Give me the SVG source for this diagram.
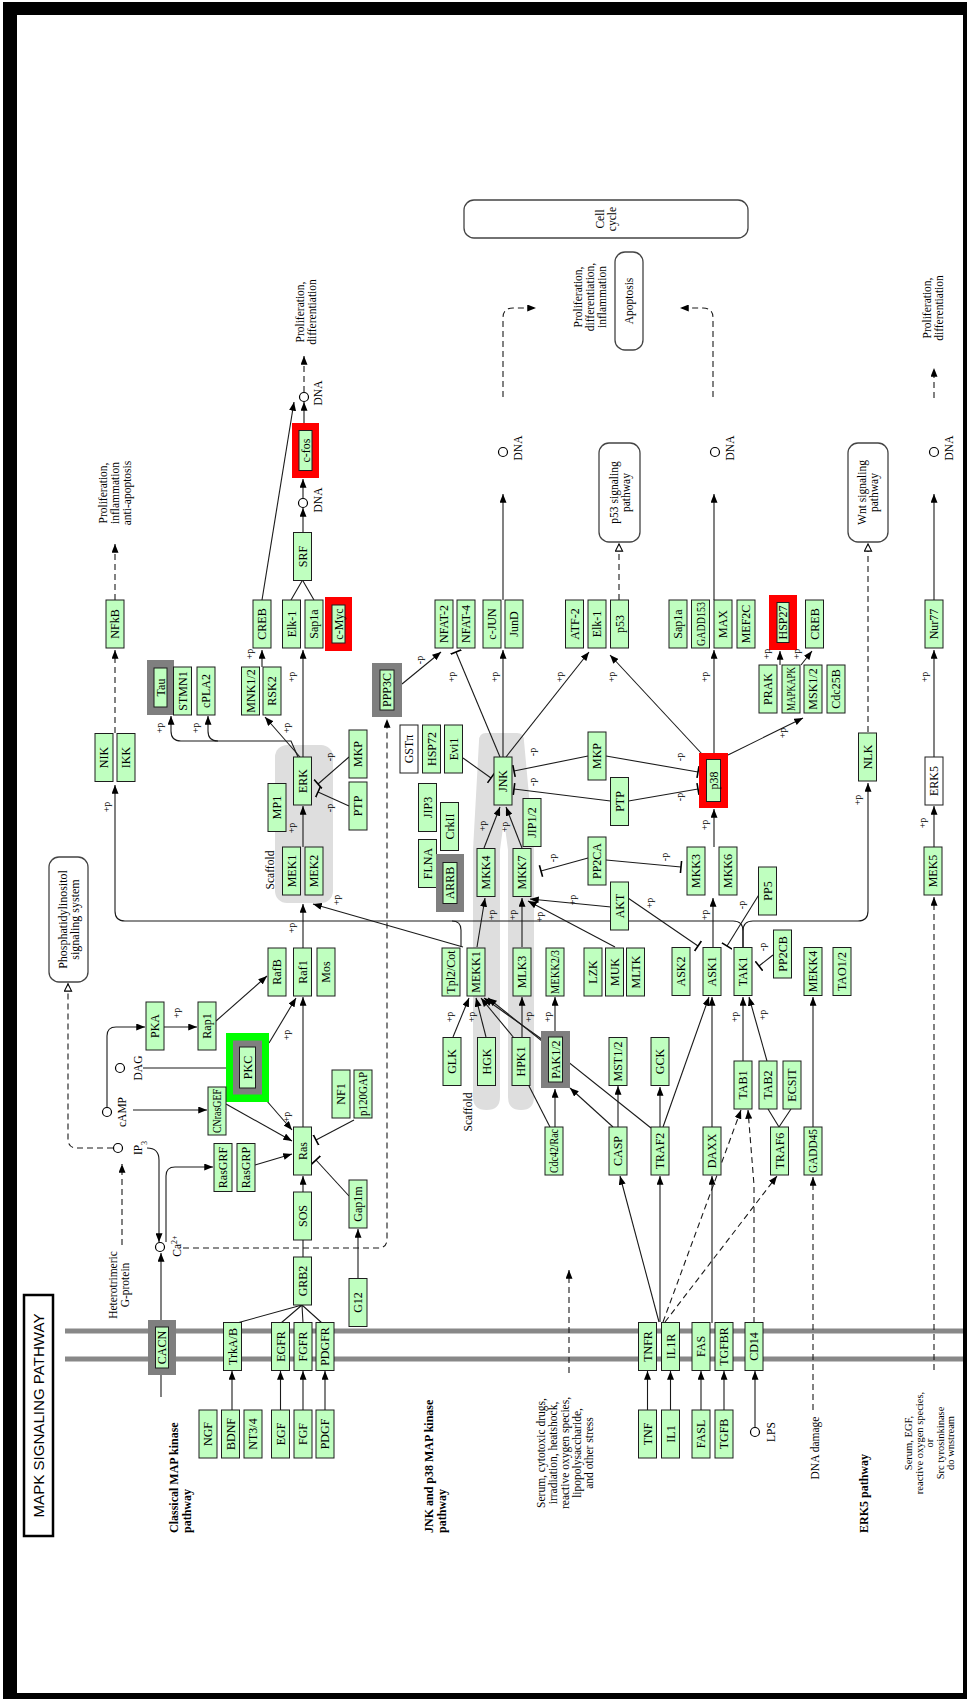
<svg xmlns="http://www.w3.org/2000/svg" width="967" height="1699" viewBox="0 0 967 1699">
<style>
.n rect{fill:#bfffbf;stroke:#1e1e1e;stroke-width:1}
.nw rect{fill:#fff;stroke:#1e1e1e;stroke-width:1}
.in{fill:#bfffbf;stroke:#1e1e1e;stroke-width:1}
.hg{fill:#7f7f7f}
.hr{fill:#ff0000}
.hl{fill:#00ff00}
text{font-family:"Liberation Serif","DejaVu Serif",serif;fill:#000}
.t{font-size:12px;text-anchor:middle}
.p{font-size:10px;text-anchor:middle}
.l{font-size:11.5px;text-anchor:middle}
.b{font-size:12px;font-weight:bold;text-anchor:start}
.c{fill:none;stroke:#1a1a1a;stroke-width:1.1}
.d{stroke-dasharray:6 4}
.A{marker-end:url(#ar)}
.B{marker-end:url(#br)}
.O{marker-end:url(#oa)}
.pw{fill:#fff;stroke:#444;stroke-width:1.3}
.cp{fill:#fff;stroke:#000;stroke-width:1.2}
.sc{fill:#dedede}
</style>
<defs>
<marker id="ar" viewBox="0 0 10 8" refX="10" refY="4" markerWidth="9" markerHeight="7" markerUnits="userSpaceOnUse" orient="auto"><path d="M0,0 L10,4 L0,8 z" fill="#000"/></marker>
<marker id="oa" viewBox="0 0 10 10" refX="10" refY="5" markerWidth="9" markerHeight="9" markerUnits="userSpaceOnUse" orient="auto"><path d="M1,1 L9,5 L1,9 z" fill="#fff" stroke="#000" stroke-width="1.2"/></marker>
<marker id="br" viewBox="0 0 4 12" refX="2" refY="6" markerWidth="4" markerHeight="12" markerUnits="userSpaceOnUse" orient="auto"><path d="M2,0 V12" stroke="#000" stroke-width="1.6"/></marker>
</defs>
<rect width="967" height="1699" fill="#fff"/>
<path fill="#000" fill-rule="evenodd" d="M3,2 H967 V1699 H3 Z M17,15 H963 V1693 H17 Z"/>

<g id="title">
<rect x="24" y="1295" width="29" height="241" fill="#fff" stroke="#000" stroke-width="2.5"/>
<text transform="translate(38.5 1415.5) rotate(-90)" y="5.5" text-anchor="middle" textLength="204" lengthAdjust="spacingAndGlyphs" style="font-family:'Liberation Sans',Arial,sans-serif;font-size:15px">MAPK  SIGNALING  PATHWAY</text>
</g>

<g id="scaffolds">
<rect class="sc" x="275" y="745" width="58" height="158" rx="12"/>
<path class="sc" d="M486,733 H517 Q524,733 524,741 L534,850 V1097 Q534,1110 521,1110 Q508,1110 508,1097 V850 L504,820 L500,850 V1097 Q500,1110 486.5,1110 Q473,1110 473,1097 V850 L479,741 Q479,733 486,733 Z"/>
</g>

<g id="membrane">
<line x1="65" y1="1331" x2="963" y2="1331" stroke="#888" stroke-width="5"/>
<line x1="65" y1="1359" x2="963" y2="1359" stroke="#888" stroke-width="5"/>
</g>

<g id="pathways">
<g id="pw-pi"><rect class="pw" x="49" y="857" width="39" height="125" rx="10"/><text class="l" transform="translate(68.5 919.5) rotate(-90)" style="font-size:12px"><tspan x="0" y="-2">Phosphatidylinositol</tspan><tspan x="0" y="10">signaling system</tspan></text></g>
<g id="pw-p53"><rect class="pw" x="599" y="443" width="41" height="99" rx="10"/><text class="l" transform="translate(619.5 492.5) rotate(-90)"><tspan x="0" y="-2">p53 signaling</tspan><tspan x="0" y="10">pathway</tspan></text></g>
<g id="pw-wnt"><rect class="pw" x="848" y="443" width="40" height="99" rx="10"/><text class="l" transform="translate(868 492.5) rotate(-90)"><tspan x="0" y="-2">Wnt signaling</tspan><tspan x="0" y="10">pathway</tspan></text></g>
<g id="pw-cellcycle"><rect class="pw" x="464" y="200" width="284" height="38" rx="10"/><text class="l" transform="translate(606 219) rotate(-90)"><tspan x="0" y="-2">Cell</tspan><tspan x="0" y="10">cycle</tspan></text></g>
<g id="pw-apoptosis"><rect class="pw" x="615" y="252" width="28" height="98" rx="10"/><text class="l" transform="translate(629 301) rotate(-90)" y="4">Apoptosis</text></g>
</g>

<g id="connectors">
<path class="c d A" d="M115,733 V650"/>
<path class="c d A" d="M115,600 V544"/>
<path class="c A" d="M743,947 V931 Q743,921 733,921 H125 Q115,921 115,911 V785"/>
<path class="c A" d="M743,947 V931 Q743,921 753,921 H858 Q868,921 868,911 V783"/>
<path class="c" d="M452,921 Q461,921 461,930 V947"/>
<path class="c A" d="M463,947 L313,904"/>
<path class="c A" d="M303,948 V904"/>
<path class="c A" d="M303,847 V806"/>
<path class="c A" d="M303,1127 V997"/>
<path class="c A" d="M303,1192 V1176"/>
<path class="c" d="M303,1257 V1240"/>
<path class="c" d="M302,1305 L237,1323 M302,1305 L281,1323 M302,1305 L303,1323 M302,1305 L322,1323"/>
<path class="c A" d="M232,1410 V1371"/>
<path class="c A" d="M280.5,1410 V1371"/>
<path class="c A" d="M303,1410 V1371"/>
<path class="c A" d="M325,1410 V1371"/>
<path class="c A" d="M161,1397 V1253"/>
<path class="c d A" d="M122,1245 V1164"/>
<path class="c d O" d="M113,1148 H77 Q68,1148 68,1139 V983"/>
<path class="c A" d="M147,1148 Q159,1148 159,1160 V1242"/>
<path class="c A" d="M166,1242 V1176 Q166,1167 175,1167 H213"/>
<path class="c d A" d="M183,1248 H378 Q387,1248 387,1239 V719"/>
<path class="c A" d="M107,1107 V1036 Q107,1027 116,1027 H145"/>
<path class="c A" d="M133,1110 H207"/>
<path class="c" d="M143,1068 H233"/>
<path class="c A" d="M164,1027 H197"/>
<path class="c A" d="M216,1021 L267,976"/>
<path class="c A" d="M269,1043 L296,998"/>
<path class="c A" d="M266,1100 L292,1130"/>
<path class="c A" d="M226,1104 L292,1141"/>
<path class="c A" d="M255,1165 L292,1154"/>
<path class="c B" d="M354,1120 L316,1140"/>
<path class="c B" d="M349,1196 L316,1160"/>
<path class="c A" d="M358,1278 V1229"/>
<path class="c A" d="M303,757 V650"/>
<path class="c A" d="M300,757 L265,717"/>
<path class="c A" d="M298,757 L291,741 H181 Q171,741 171,731 V716"/>
<path class="c A" d="M218,741 Q208,741 208,731 V716"/>
<path class="c A" d="M262,667 V650"/>
<path class="c A" d="M262,600 L294,402"/>
<path class="c" d="M291,600 L302,581 M314,600 L303,581"/>
<path class="c A" d="M303,533 V508"/>
<path class="c A" d="M303,498 V479"/>
<path class="c A" d="M304,423 V402"/>
<path class="c d A" d="M304,392 V356"/>
<path class="c B" d="M349,757 L318,784"/>
<path class="c B" d="M349,806 L318,792"/>
<path class="c A" d="M402,684 L441,652"/>
<path class="c B" d="M500,757 L456,652"/>
<path class="c A" d="M503,757 V650"/>
<path class="c A" d="M506,757 L589,652"/>
<path class="c A" d="M702,754 L610,655"/>
<path class="c A" d="M503,600 V494"/>
<path class="c d O" d="M619,600 V543"/>
<path class="c B" d="M463,758 L491,778"/>
<path class="c B" d="M588,756 L514,771"/>
<path class="c B" d="M610.5,801 L514,789"/>
<path class="c B" d="M606,756 L698,772"/>
<path class="c B" d="M628.5,801 L698,789"/>
<path class="c A" d="M484,848 L500,807"/>
<path class="c A" d="M522,848 L506,807"/>
<path class="c A" d="M714,847 V809"/>
<path class="c A" d="M714,753 V650"/>
<path class="c A" d="M714,600 V494"/>
<path class="c A" d="M728,755 L803,718"/>
<path class="c A" d="M780,665 V651"/>
<path class="c A" d="M801,665 L812,651"/>
<path class="c d O" d="M868,732 V543"/>
<path class="c A" d="M934,757 V650"/>
<path class="c A" d="M934,600 V494"/>
<path class="c A" d="M934,847 V806"/>
<path class="c d A" d="M934,1370 V897"/>
<path class="c d A" d="M934,398 V368"/>
<path class="c d A" d="M503,397 V318 Q503,308 513,308 H536"/>
<path class="c d A" d="M713,397 V318 Q713,308 703,308 H680"/>
<path class="c A" d="M477,947 L485,898"/>
<path class="c A" d="M522,947 V898"/>
<path class="c A" d="M615,947 L528,901"/>
<path class="c A" d="M611,907 L530,899"/>
<path class="c B" d="M588,858 L541,871"/>
<path class="c B" d="M606,860 L681,867"/>
<path class="c B" d="M628,898 L698,946"/>
<path class="c A" d="M713,947 V898"/>
<path class="c B" d="M760,893 L727,946"/>
<path class="c B" d="M773,955 L759,966"/>
<path class="c A" d="M660,1127 V1087"/>
<path class="c A" d="M663,1127 L709,997"/>
<path class="c A" d="M712,1127 V997"/>
<path class="c A" d="M743,1061 V997"/>
<path class="c A" d="M767,1061 L749,997"/>
<path class="c" d="M779,1127 L768,1109 M779,1127 L791,1109"/>
<path class="c A" d="M813,1127 V997"/>
<path class="c d A" d="M813,1410 V1177"/>
<path class="c A" d="M453,1037 L469,998"/>
<path class="c A" d="M486,1037 L476,998"/>
<path class="c A" d="M514,1038 L481,998"/>
<path class="c A" d="M522,1037 V997"/>
<path class="c A" d="M543,1040 L484,998"/>
<path class="c A" d="M555,1031 V997"/>
<path class="c A" d="M555,1127 V1089"/>
<path class="c" d="M550,1127 L529,1086"/>
<path class="c A" d="M613,1127 L570,1088"/>
<path class="c A" d="M618,1127 V1086"/>
<path class="c A" d="M651,1128 L488,998"/>
<path class="c A" d="M659,1322 L620,1176"/>
<path class="c A" d="M660,1322 V1176"/>
<path class="c d A" d="M663,1322 L741,1110"/>
<path class="c d A" d="M665,1322 L777,1176"/>
<path class="c A" d="M712,1323 V1176"/>
<path class="c d A" d="M754,1323 V1185 L748,1110"/>
<path class="c A" d="M647.5,1410 V1371"/>
<path class="c A" d="M670.5,1410 V1371"/>
<path class="c A" d="M701,1410 V1371"/>
<path class="c A" d="M724,1410 V1371"/>
<path class="c A" d="M755,1427 V1371"/>
<path class="c d A" d="M569,1373 V1270"/>
</g>

<g id="compounds">
<circle class="cp" cx="304" cy="397" r="4.5"/>
<circle class="cp" cx="303" cy="503" r="4.5"/>
<circle class="cp" cx="503" cy="452" r="4.5"/>
<circle class="cp" cx="715" cy="452" r="4.5"/>
<circle class="cp" cx="934" cy="452" r="4.5"/>
<circle class="cp" cx="118" cy="1148" r="4.5"/>
<circle class="cp" cx="107" cy="1112" r="4.5"/>
<circle class="cp" cx="120" cy="1068" r="4.5"/>
<circle class="cp" cx="160" cy="1247" r="4.5"/>
<circle class="cp" cx="755" cy="1432" r="4.5"/>
<text class="l" transform="translate(318 393) rotate(-90)" y="4">DNA</text>
<text class="l" transform="translate(318 500) rotate(-90)" y="4">DNA</text>
<text class="l" transform="translate(518 448) rotate(-90)" y="4">DNA</text>
<text class="l" transform="translate(730 448) rotate(-90)" y="4">DNA</text>
<text class="l" transform="translate(949 448) rotate(-90)" y="4">DNA</text>
<text class="l" transform="translate(138 1148) rotate(-90)" y="4">IP<tspan baseline-shift="sub" font-size="8">3</tspan></text>
<text class="l" transform="translate(121.5 1112) rotate(-90)" y="4">cAMP</text>
<text class="l" transform="translate(137.5 1068) rotate(-90)" y="4">DAG</text>
<text class="l" transform="translate(177 1246) rotate(-90)" y="4">Ca<tspan baseline-shift="super" font-size="8">2+</tspan></text>
<text class="l" transform="translate(771 1432) rotate(-90)" y="4">LPS</text>
</g>

<g id="nodes">
<g id="n-NFkB" class="n" transform="translate(115 624) rotate(-90)"><rect x="-24" y="-9" width="48" height="18"/><text class="t" y="4">NFkB</text></g>
<g id="n-NIK" class="n" transform="translate(104 757.5) rotate(-90)"><rect x="-24" y="-9" width="48" height="18"/><text class="t" y="4">NIK</text></g>
<g id="n-IKK" class="n" transform="translate(126 757.5) rotate(-90)"><rect x="-24" y="-9" width="48" height="18"/><text class="t" y="4">IKK</text></g>
<g id="n-Tau" transform="translate(160.5 687.5) rotate(-90)"><rect class="hg" x="-27.5" y="-13.5" width="55" height="27"/><rect class="in" x="-19.5" y="-6.5" width="39" height="13"/><text class="t" y="4">Tau</text></g>
<g id="n-STMN1" class="n" transform="translate(182.5 691) rotate(-90)"><rect x="-24" y="-9" width="48" height="18"/><text class="t" y="4">STMN1</text></g>
<g id="n-cPLA2" class="n" transform="translate(206 691) rotate(-90)"><rect x="-24" y="-9" width="48" height="18"/><text class="t" y="4">cPLA2</text></g>
<g id="n-MNK12" class="n" transform="translate(250.5 691) rotate(-90)"><rect x="-24" y="-9" width="48" height="18"/><text class="t" y="4">MNK1/2</text></g>
<g id="n-RSK2" class="n" transform="translate(272 691) rotate(-90)"><rect x="-24" y="-9" width="48" height="18"/><text class="t" y="4">RSK2</text></g>
<g id="n-CREB-a" class="n" transform="translate(262 624) rotate(-90)"><rect x="-24" y="-9" width="48" height="18"/><text class="t" y="4">CREB</text></g>
<g id="n-Elk1-a" class="n" transform="translate(291.5 624) rotate(-90)"><rect x="-24" y="-9" width="48" height="18"/><text class="t" y="4">Elk-1</text></g>
<g id="n-Sap1a-a" class="n" transform="translate(314 624) rotate(-90)"><rect x="-24" y="-9" width="48" height="18"/><text class="t" y="4">Sap1a</text></g>
<g id="n-cMyc" transform="translate(338.5 624) rotate(-90)"><rect class="hr" x="-27" y="-13.5" width="54" height="27"/><rect class="in" x="-19" y="-6.5" width="38" height="13"/><text class="t" y="4">c-Myc</text></g>
<g id="n-SRF" class="n" transform="translate(302.5 556.5) rotate(-90)"><rect x="-24" y="-9" width="48" height="18"/><text class="t" y="4">SRF</text></g>
<g id="n-cfos" transform="translate(305.5 450.5) rotate(-90)"><rect class="hr" x="-27.5" y="-13.5" width="55" height="27"/><rect class="in" x="-20" y="-6.5" width="40" height="13"/><text class="t" y="4">c-fos</text></g>
<g id="n-ERK" class="n" transform="translate(302.5 781) rotate(-90)"><rect x="-24" y="-9" width="48" height="18"/><text class="t" y="4">ERK</text></g>
<g id="n-MP1" class="n" transform="translate(277 807.5) rotate(-90)"><rect x="-24" y="-9" width="48" height="18"/><text class="t" y="4">MP1</text></g>
<g id="n-MEK1" class="n" transform="translate(291.5 871) rotate(-90)"><rect x="-24" y="-9" width="48" height="18"/><text class="t" y="4">MEK1</text></g>
<g id="n-MEK2" class="n" transform="translate(314 871) rotate(-90)"><rect x="-24" y="-9" width="48" height="18"/><text class="t" y="4">MEK2</text></g>
<g id="n-RafB" class="n" transform="translate(277 972) rotate(-90)"><rect x="-24" y="-9" width="48" height="18"/><text class="t" y="4">RafB</text></g>
<g id="n-Raf1" class="n" transform="translate(302.5 972) rotate(-90)"><rect x="-24" y="-9" width="48" height="18"/><text class="t" y="4">Raf1</text></g>
<g id="n-Mos" class="n" transform="translate(326 972) rotate(-90)"><rect x="-24" y="-9" width="48" height="18"/><text class="t" y="4">Mos</text></g>
<g id="n-PKA" class="n" transform="translate(155 1026) rotate(-90)"><rect x="-24" y="-9" width="48" height="18"/><text class="t" y="4">PKA</text></g>
<g id="n-Rap1" class="n" transform="translate(207 1026) rotate(-90)"><rect x="-24" y="-9" width="48" height="18"/><text class="t" y="4">Rap1</text></g>
<g id="n-PKC" transform="translate(247.5 1067.5) rotate(-90)"><rect class="hl" x="-34.5" y="-21.5" width="69" height="43"/><rect class="hg" x="-27" y="-14.5" width="54" height="29"/><rect class="in" x="-20.5" y="-8" width="41" height="16"/><text class="t" y="4">PKC</text></g>
<g id="n-CNrasGEF" class="n" transform="translate(217 1111) rotate(-90)"><rect x="-24" y="-9" width="48" height="18"/><text class="t" y="4" textLength="44" lengthAdjust="spacingAndGlyphs">CNrasGEF</text></g>
<g id="n-RasGRF" class="n" transform="translate(223 1167.5) rotate(-90)"><rect x="-24" y="-9" width="48" height="18"/><text class="t" y="4">RasGRF</text></g>
<g id="n-RasGRP" class="n" transform="translate(246 1167.5) rotate(-90)"><rect x="-24" y="-9" width="48" height="18"/><text class="t" y="4">RasGRP</text></g>
<g id="n-Ras" class="n" transform="translate(302.5 1151) rotate(-90)"><rect x="-24" y="-9" width="48" height="18"/><text class="t" y="4">Ras</text></g>
<g id="n-SOS" class="n" transform="translate(302.5 1216) rotate(-90)"><rect x="-24" y="-9" width="48" height="18"/><text class="t" y="4">SOS</text></g>
<g id="n-GRB2" class="n" transform="translate(302.5 1281) rotate(-90)"><rect x="-24" y="-9" width="48" height="18"/><text class="t" y="4">GRB2</text></g>
<g id="n-NF1" class="n" transform="translate(341 1094) rotate(-90)"><rect x="-24" y="-9" width="48" height="18"/><text class="t" y="4">NF1</text></g>
<g id="n-p120GAP" class="n" transform="translate(363 1094) rotate(-90)"><rect x="-24" y="-9" width="48" height="18"/><text class="t" y="4" textLength="44" lengthAdjust="spacingAndGlyphs">p120GAP</text></g>
<g id="n-Gap1m" class="n" transform="translate(358 1204) rotate(-90)"><rect x="-24" y="-9" width="48" height="18"/><text class="t" y="4">Gap1m</text></g>
<g id="n-G12" class="n" transform="translate(358 1302.5) rotate(-90)"><rect x="-24" y="-9" width="48" height="18"/><text class="t" y="4">G12</text></g>
<g id="n-MKP-a" class="n" transform="translate(358 754) rotate(-90)"><rect x="-24" y="-9" width="48" height="18"/><text class="t" y="4">MKP</text></g>
<g id="n-PTP-a" class="n" transform="translate(358 806) rotate(-90)"><rect x="-24" y="-9" width="48" height="18"/><text class="t" y="4">PTP</text></g>
<g id="n-CACN" transform="translate(162 1347.5) rotate(-90)"><rect class="hg" x="-27.5" y="-14" width="55" height="28"/><rect class="in" x="-20.5" y="-6.5" width="41" height="13"/><text class="t" y="4">CACN</text></g>
<g id="n-TrkAB" class="n" transform="translate(232.5 1346.5) rotate(-90)"><rect x="-24" y="-9" width="48" height="18"/><text class="t" y="4">TrkA/B</text></g>
<g id="n-EGFR" class="n" transform="translate(280.5 1346.5) rotate(-90)"><rect x="-24" y="-9" width="48" height="18"/><text class="t" y="4">EGFR</text></g>
<g id="n-FGFR" class="n" transform="translate(303 1346.5) rotate(-90)"><rect x="-24" y="-9" width="48" height="18"/><text class="t" y="4">FGFR</text></g>
<g id="n-PDGFR" class="n" transform="translate(325 1346.5) rotate(-90)"><rect x="-24" y="-9" width="48" height="18"/><text class="t" y="4">PDGFR</text></g>
<g id="n-NGF" class="n" transform="translate(208 1434) rotate(-90)"><rect x="-24" y="-9" width="48" height="18"/><text class="t" y="4">NGF</text></g>
<g id="n-BDNF" class="n" transform="translate(230.5 1434) rotate(-90)"><rect x="-24" y="-9" width="48" height="18"/><text class="t" y="4">BDNF</text></g>
<g id="n-NT34" class="n" transform="translate(253 1434) rotate(-90)"><rect x="-24" y="-9" width="48" height="18"/><text class="t" y="4">NT3/4</text></g>
<g id="n-EGF" class="n" transform="translate(280.5 1434) rotate(-90)"><rect x="-24" y="-9" width="48" height="18"/><text class="t" y="4">EGF</text></g>
<g id="n-FGF" class="n" transform="translate(303 1434) rotate(-90)"><rect x="-24" y="-9" width="48" height="18"/><text class="t" y="4">FGF</text></g>
<g id="n-PDGF" class="n" transform="translate(325 1434) rotate(-90)"><rect x="-24" y="-9" width="48" height="18"/><text class="t" y="4">PDGF</text></g>
<g id="n-PPP3C" transform="translate(387 690) rotate(-90)"><rect class="hg" x="-27" y="-15" width="54" height="30"/><rect class="in" x="-20" y="-7" width="40" height="14"/><text class="t" y="4">PPP3C</text></g>
<g id="n-NFAT2" class="n" transform="translate(444 624) rotate(-90)"><rect x="-24" y="-9" width="48" height="18"/><text class="t" y="4">NFAT-2</text></g>
<g id="n-NFAT4" class="n" transform="translate(466 624) rotate(-90)"><rect x="-24" y="-9" width="48" height="18"/><text class="t" y="4">NFAT-4</text></g>
<g id="n-cJUN" class="n" transform="translate(492 624) rotate(-90)"><rect x="-24" y="-9" width="48" height="18"/><text class="t" y="4">c-JUN</text></g>
<g id="n-JunD" class="n" transform="translate(514 624) rotate(-90)"><rect x="-24" y="-9" width="48" height="18"/><text class="t" y="4">JunD</text></g>
<g id="n-ATF2" class="n" transform="translate(574.5 624) rotate(-90)"><rect x="-24" y="-9" width="48" height="18"/><text class="t" y="4">ATF-2</text></g>
<g id="n-Elk1-b" class="n" transform="translate(597 624) rotate(-90)"><rect x="-24" y="-9" width="48" height="18"/><text class="t" y="4">Elk-1</text></g>
<g id="n-p53" class="n" transform="translate(619.5 624) rotate(-90)"><rect x="-24" y="-9" width="48" height="18"/><text class="t" y="4">p53</text></g>
<g id="n-GSTpi" class="nw" transform="translate(409 749) rotate(-90)"><rect x="-24" y="-9" width="48" height="18"/><text class="t" y="4">GSTπ</text></g>
<g id="n-HSP72" class="n" transform="translate(431.5 749) rotate(-90)"><rect x="-24" y="-9" width="48" height="18"/><text class="t" y="4">HSP72</text></g>
<g id="n-Evi1" class="n" transform="translate(453.5 749) rotate(-90)"><rect x="-24" y="-9" width="48" height="18"/><text class="t" y="4">Evi1</text></g>
<g id="n-JIP3" class="n" transform="translate(427.5 807.5) rotate(-90)"><rect x="-24" y="-9" width="48" height="18"/><text class="t" y="4">JIP3</text></g>
<g id="n-CrkII" class="n" transform="translate(449.5 826.5) rotate(-90)"><rect x="-24" y="-9" width="48" height="18"/><text class="t" y="4">CrkII</text></g>
<g id="n-FLNA" class="n" transform="translate(427.5 863.5) rotate(-90)"><rect x="-24" y="-9" width="48" height="18"/><text class="t" y="4">FLNA</text></g>
<g id="n-ARRB" transform="translate(450 883) rotate(-90)"><rect class="hg" x="-29" y="-14" width="58" height="28"/><rect class="in" x="-20.5" y="-7" width="41" height="14"/><text class="t" y="4">ARRB</text></g>
<g id="n-JNK" class="n" transform="translate(503 781) rotate(-90)"><rect x="-24" y="-9" width="48" height="18"/><text class="t" y="4">JNK</text></g>
<g id="n-JIP12" class="n" transform="translate(532 822.5) rotate(-90)"><rect x="-24" y="-9" width="48" height="18"/><text class="t" y="4">JIP1/2</text></g>
<g id="n-MKP-b" class="n" transform="translate(597 756) rotate(-90)"><rect x="-24" y="-9" width="48" height="18"/><text class="t" y="4">MKP</text></g>
<g id="n-PTP-b" class="n" transform="translate(619.5 801.5) rotate(-90)"><rect x="-24" y="-9" width="48" height="18"/><text class="t" y="4">PTP</text></g>
<g id="n-MKK4" class="n" transform="translate(486 872.5) rotate(-90)"><rect x="-24" y="-9" width="48" height="18"/><text class="t" y="4">MKK4</text></g>
<g id="n-MKK7" class="n" transform="translate(522 872.5) rotate(-90)"><rect x="-24" y="-9" width="48" height="18"/><text class="t" y="4">MKK7</text></g>
<g id="n-PP2CA" class="n" transform="translate(597 861) rotate(-90)"><rect x="-24" y="-9" width="48" height="18"/><text class="t" y="4">PP2CA</text></g>
<g id="n-AKT" class="n" transform="translate(619.5 906) rotate(-90)"><rect x="-24" y="-9" width="48" height="18"/><text class="t" y="4">AKT</text></g>
<g id="n-Tpl2Cot" class="n" transform="translate(451 972) rotate(-90)"><rect x="-24" y="-9" width="48" height="18"/><text class="t" y="4">Tpl2/Cot</text></g>
<g id="n-MEKK1" class="n" transform="translate(476 972) rotate(-90)"><rect x="-24" y="-9" width="48" height="18"/><text class="t" y="4">MEKK1</text></g>
<g id="n-MLK3" class="n" transform="translate(522 972) rotate(-90)"><rect x="-24" y="-9" width="48" height="18"/><text class="t" y="4">MLK3</text></g>
<g id="n-MEKK23" class="n" transform="translate(555 972) rotate(-90)"><rect x="-24" y="-9" width="48" height="18"/><text class="t" y="4" textLength="44" lengthAdjust="spacingAndGlyphs">MEKK2/3</text></g>
<g id="n-LZK" class="n" transform="translate(593 972) rotate(-90)"><rect x="-24" y="-9" width="48" height="18"/><text class="t" y="4">LZK</text></g>
<g id="n-MUK" class="n" transform="translate(614.5 972) rotate(-90)"><rect x="-24" y="-9" width="48" height="18"/><text class="t" y="4">MUK</text></g>
<g id="n-MLTK" class="n" transform="translate(635.5 972) rotate(-90)"><rect x="-24" y="-9" width="48" height="18"/><text class="t" y="4">MLTK</text></g>
<g id="n-GLK" class="n" transform="translate(452 1061.5) rotate(-90)"><rect x="-24" y="-9" width="48" height="18"/><text class="t" y="4">GLK</text></g>
<g id="n-HGK" class="n" transform="translate(486.5 1061.5) rotate(-90)"><rect x="-24" y="-9" width="48" height="18"/><text class="t" y="4">HGK</text></g>
<g id="n-HPK1" class="n" transform="translate(521 1061.5) rotate(-90)"><rect x="-24" y="-9" width="48" height="18"/><text class="t" y="4">HPK1</text></g>
<g id="n-PAK12" transform="translate(555.5 1059.5) rotate(-90)"><rect class="hg" x="-28.5" y="-14.5" width="57" height="29"/><rect class="in" x="-22.5" y="-7" width="45" height="14"/><text class="t" y="4">PAK1/2</text></g>
<g id="n-MST12" class="n" transform="translate(618 1061.5) rotate(-90)"><rect x="-24" y="-9" width="48" height="18"/><text class="t" y="4">MST1/2</text></g>
<g id="n-Cdc42Rac" class="n" transform="translate(554 1151) rotate(-90)"><rect x="-24" y="-9" width="48" height="18"/><text class="t" y="4" textLength="44" lengthAdjust="spacingAndGlyphs">Cdc42/Rac</text></g>
<g id="n-CASP" class="n" transform="translate(618 1151) rotate(-90)"><rect x="-24" y="-9" width="48" height="18"/><text class="t" y="4">CASP</text></g>
<g id="n-TNFR" class="n" transform="translate(647.5 1346.5) rotate(-90)"><rect x="-24" y="-9" width="48" height="18"/><text class="t" y="4">TNFR</text></g>
<g id="n-IL1R" class="n" transform="translate(670.5 1346.5) rotate(-90)"><rect x="-24" y="-9" width="48" height="18"/><text class="t" y="4">IL1R</text></g>
<g id="n-FAS" class="n" transform="translate(701 1346.5) rotate(-90)"><rect x="-24" y="-9" width="48" height="18"/><text class="t" y="4">FAS</text></g>
<g id="n-TGFBR" class="n" transform="translate(724 1346.5) rotate(-90)"><rect x="-24" y="-9" width="48" height="18"/><text class="t" y="4">TGFBR</text></g>
<g id="n-CD14" class="n" transform="translate(754 1346.5) rotate(-90)"><rect x="-24" y="-9" width="48" height="18"/><text class="t" y="4">CD14</text></g>
<g id="n-TNF" class="n" transform="translate(647.5 1434) rotate(-90)"><rect x="-24" y="-9" width="48" height="18"/><text class="t" y="4">TNF</text></g>
<g id="n-IL1" class="n" transform="translate(670.5 1434) rotate(-90)"><rect x="-24" y="-9" width="48" height="18"/><text class="t" y="4">IL1</text></g>
<g id="n-FASL" class="n" transform="translate(701 1434) rotate(-90)"><rect x="-24" y="-9" width="48" height="18"/><text class="t" y="4">FASL</text></g>
<g id="n-TGFB" class="n" transform="translate(724 1434) rotate(-90)"><rect x="-24" y="-9" width="48" height="18"/><text class="t" y="4">TGFB</text></g>
<g id="n-Sap1a-b" class="n" transform="translate(678 624) rotate(-90)"><rect x="-24" y="-9" width="48" height="18"/><text class="t" y="4">Sap1a</text></g>
<g id="n-GADD153" class="n" transform="translate(700.5 624) rotate(-90)"><rect x="-24" y="-9" width="48" height="18"/><text class="t" y="4" textLength="44" lengthAdjust="spacingAndGlyphs">GADD153</text></g>
<g id="n-MAX" class="n" transform="translate(723 624) rotate(-90)"><rect x="-24" y="-9" width="48" height="18"/><text class="t" y="4">MAX</text></g>
<g id="n-MEF2C" class="n" transform="translate(746 624) rotate(-90)"><rect x="-24" y="-9" width="48" height="18"/><text class="t" y="4">MEF2C</text></g>
<g id="n-HSP27" transform="translate(783 622.5) rotate(-90)"><rect class="hr" x="-27.5" y="-14" width="55" height="28"/><rect class="in" x="-20" y="-6" width="40" height="12"/><text class="t" y="4">HSP27</text></g>
<g id="n-CREB-b" class="n" transform="translate(814.5 624) rotate(-90)"><rect x="-24" y="-9" width="48" height="18"/><text class="t" y="4">CREB</text></g>
<g id="n-PRAK" class="n" transform="translate(768 689) rotate(-90)"><rect x="-24" y="-9" width="48" height="18"/><text class="t" y="4">PRAK</text></g>
<g id="n-MAPKAPK" class="n" transform="translate(791 689) rotate(-90)"><rect x="-24" y="-9" width="48" height="18"/><text class="t" y="4" textLength="44" lengthAdjust="spacingAndGlyphs">MAPKAPK</text></g>
<g id="n-MSK12" class="n" transform="translate(813 689) rotate(-90)"><rect x="-24" y="-9" width="48" height="18"/><text class="t" y="4">MSK1/2</text></g>
<g id="n-Cdc25B" class="n" transform="translate(836 689) rotate(-90)"><rect x="-24" y="-9" width="48" height="18"/><text class="t" y="4">Cdc25B</text></g>
<g id="n-p38" transform="translate(713.5 780.5) rotate(-90)"><rect class="hr" x="-27.5" y="-14.5" width="55" height="29"/><rect class="in" x="-21" y="-7" width="42" height="14"/><text class="t" y="4">p38</text></g>
<g id="n-MKK3" class="n" transform="translate(696 871) rotate(-90)"><rect x="-24" y="-9" width="48" height="18"/><text class="t" y="4">MKK3</text></g>
<g id="n-MKK6" class="n" transform="translate(728 871) rotate(-90)"><rect x="-24" y="-9" width="48" height="18"/><text class="t" y="4">MKK6</text></g>
<g id="n-PP5" class="n" transform="translate(767.5 891) rotate(-90)"><rect x="-24" y="-9" width="48" height="18"/><text class="t" y="4">PP5</text></g>
<g id="n-ASK2" class="n" transform="translate(681 971.5) rotate(-90)"><rect x="-24" y="-9" width="48" height="18"/><text class="t" y="4">ASK2</text></g>
<g id="n-ASK1" class="n" transform="translate(712 971.5) rotate(-90)"><rect x="-24" y="-9" width="48" height="18"/><text class="t" y="4">ASK1</text></g>
<g id="n-TAK1" class="n" transform="translate(743 971.5) rotate(-90)"><rect x="-24" y="-9" width="48" height="18"/><text class="t" y="4">TAK1</text></g>
<g id="n-PP2CB" class="n" transform="translate(782.5 954) rotate(-90)"><rect x="-24" y="-9" width="48" height="18"/><text class="t" y="4">PP2CB</text></g>
<g id="n-MEKK4" class="n" transform="translate(813 971.5) rotate(-90)"><rect x="-24" y="-9" width="48" height="18"/><text class="t" y="4">MEKK4</text></g>
<g id="n-TAO12" class="n" transform="translate(842 971.5) rotate(-90)"><rect x="-24" y="-9" width="48" height="18"/><text class="t" y="4">TAO1/2</text></g>
<g id="n-GCK" class="n" transform="translate(660 1061.5) rotate(-90)"><rect x="-24" y="-9" width="48" height="18"/><text class="t" y="4">GCK</text></g>
<g id="n-TAB1" class="n" transform="translate(743 1085) rotate(-90)"><rect x="-24" y="-9" width="48" height="18"/><text class="t" y="4">TAB1</text></g>
<g id="n-TAB2" class="n" transform="translate(768 1085) rotate(-90)"><rect x="-24" y="-9" width="48" height="18"/><text class="t" y="4">TAB2</text></g>
<g id="n-ECSIT" class="n" transform="translate(792 1085) rotate(-90)"><rect x="-24" y="-9" width="48" height="18"/><text class="t" y="4">ECSIT</text></g>
<g id="n-TRAF2" class="n" transform="translate(660 1151) rotate(-90)"><rect x="-24" y="-9" width="48" height="18"/><text class="t" y="4">TRAF2</text></g>
<g id="n-DAXX" class="n" transform="translate(712 1151) rotate(-90)"><rect x="-24" y="-9" width="48" height="18"/><text class="t" y="4">DAXX</text></g>
<g id="n-TRAF6" class="n" transform="translate(779.5 1151) rotate(-90)"><rect x="-24" y="-9" width="48" height="18"/><text class="t" y="4">TRAF6</text></g>
<g id="n-GADD45" class="n" transform="translate(813 1151) rotate(-90)"><rect x="-24" y="-9" width="48" height="18"/><text class="t" y="4" textLength="44" lengthAdjust="spacingAndGlyphs">GADD45</text></g>
<g id="n-NLK" class="n" transform="translate(867.5 757) rotate(-90)"><rect x="-24" y="-9" width="48" height="18"/><text class="t" y="4">NLK</text></g>
<g id="n-Nur77" class="n" transform="translate(934 624) rotate(-90)"><rect x="-24" y="-9" width="48" height="18"/><text class="t" y="4">Nur77</text></g>
<g id="n-ERK5" class="nw" transform="translate(934 781) rotate(-90)"><rect x="-24" y="-9" width="48" height="18"/><text class="t" y="4">ERK5</text></g>
<g id="n-MEK5" class="n" transform="translate(933 871) rotate(-90)"><rect x="-24" y="-9" width="48" height="18"/><text class="t" y="4">MEK5</text></g>
</g>

<g id="edge-labels">
<text class="p" transform="translate(107 807) rotate(-90)" y="3">+p</text>
<text class="p" transform="translate(858 800) rotate(-90)" y="3">+p</text>
<text class="p" transform="translate(292 928) rotate(-90)" y="3">+p</text>
<text class="p" transform="translate(292 828) rotate(-90)" y="3">+p</text>
<text class="p" transform="translate(337 900) rotate(-90)" y="3">+p</text>
<text class="p" transform="translate(292 677) rotate(-90)" y="3">+p</text>
<text class="p" transform="translate(287 728) rotate(-90)" y="3">+p</text>
<text class="p" transform="translate(160 728) rotate(-90)" y="3">+p</text>
<text class="p" transform="translate(196 728) rotate(-90)" y="3">+p</text>
<text class="p" transform="translate(250 654) rotate(-90)" y="3">+p</text>
<text class="p" transform="translate(177 1013) rotate(-90)" y="3">+p</text>
<text class="p" transform="translate(287 1035) rotate(-90)" y="3">+p</text>
<text class="p" transform="translate(287 1117) rotate(-90)" y="3">+p</text>
<text class="p" transform="translate(330 757) rotate(-90)" y="3">-p</text>
<text class="p" transform="translate(330 808) rotate(-90)" y="3">-p</text>
<text class="p" transform="translate(420 660) rotate(-90)" y="3">-p</text>
<text class="p" transform="translate(452 677) rotate(-90)" y="3">+p</text>
<text class="p" transform="translate(495 677) rotate(-90)" y="3">+p</text>
<text class="p" transform="translate(560 677) rotate(-90)" y="3">+p</text>
<text class="p" transform="translate(612 677) rotate(-90)" y="3">+p</text>
<text class="p" transform="translate(705 677) rotate(-90)" y="3">+p</text>
<text class="p" transform="translate(533 752) rotate(-90)" y="3">-p</text>
<text class="p" transform="translate(533 782) rotate(-90)" y="3">-p</text>
<text class="p" transform="translate(680 757) rotate(-90)" y="3">-p</text>
<text class="p" transform="translate(680 797) rotate(-90)" y="3">-p</text>
<text class="p" transform="translate(483 826) rotate(-90)" y="3">+p</text>
<text class="p" transform="translate(505 827) rotate(-90)" y="3">+p</text>
<text class="p" transform="translate(705 825) rotate(-90)" y="3">+p</text>
<text class="p" transform="translate(783 733) rotate(-90)" y="3">+p</text>
<text class="p" transform="translate(767 654) rotate(-90)" y="3">+p</text>
<text class="p" transform="translate(797 654) rotate(-90)" y="3">+p</text>
<text class="p" transform="translate(925 677) rotate(-90)" y="3">+p</text>
<text class="p" transform="translate(923 823) rotate(-90)" y="3">+p</text>
<text class="p" transform="translate(492 915) rotate(-90)" y="3">+p</text>
<text class="p" transform="translate(513 915) rotate(-90)" y="3">+p</text>
<text class="p" transform="translate(540 917) rotate(-90)" y="3">+p</text>
<text class="p" transform="translate(573 900) rotate(-90)" y="3">+p</text>
<text class="p" transform="translate(553 858) rotate(-90)" y="3">-p</text>
<text class="p" transform="translate(665 857) rotate(-90)" y="3">-p</text>
<text class="p" transform="translate(650 903) rotate(-90)" y="3">+p</text>
<text class="p" transform="translate(705 915) rotate(-90)" y="3">+p</text>
<text class="p" transform="translate(742 905) rotate(-90)" y="3">-p</text>
<text class="p" transform="translate(763 947) rotate(-90)" y="3">-p</text>
<text class="p" transform="translate(450 1017) rotate(-90)" y="3">+p</text>
<text class="p" transform="translate(472 1017) rotate(-90)" y="3">+p</text>
<text class="p" transform="translate(529 1017) rotate(-90)" y="3">+p</text>
<text class="p" transform="translate(548 1017) rotate(-90)" y="3">+p</text>
<text class="p" transform="translate(735 1017) rotate(-90)" y="3">+p</text>
<text class="p" transform="translate(763 1015) rotate(-90)" y="3">+p</text>
</g>

<g id="notes">
<text class="l" transform="translate(270 870) rotate(-90)" y="4">Scaffold</text>
<text class="l" transform="translate(468 1112) rotate(-90)" y="4">Scaffold</text>
<text class="l" transform="translate(115 493) rotate(-90)"><tspan x="0" y="-8">Proliferation,</tspan><tspan x="0" y="4">inflammation</tspan><tspan x="0" y="16">anti-apoptosis</tspan></text>
<text class="l" transform="translate(306 312) rotate(-90)"><tspan x="0" y="-2">Proliferation,</tspan><tspan x="0" y="10">differentiation</tspan></text>
<text class="l" transform="translate(590 297) rotate(-90)"><tspan x="0" y="-8">Proliferation,</tspan><tspan x="0" y="4">differentiation,</tspan><tspan x="0" y="16">inflammation</tspan></text>
<text class="l" transform="translate(933 308) rotate(-90)"><tspan x="0" y="-2">Proliferation,</tspan><tspan x="0" y="10">differentiation</tspan></text>
<text class="l" transform="translate(119 1285) rotate(-90)"><tspan x="0" y="-2">Heterotrimeric</tspan><tspan x="0" y="10">G-protein</tspan></text>
<text class="b" transform="translate(178 1533) rotate(-90)"><tspan x="0" y="0">Classical MAP kinase</tspan><tspan x="0" y="13">pathway</tspan></text>
<text class="b" transform="translate(433 1533) rotate(-90)"><tspan x="0" y="0">JNK and p38 MAP kinase</tspan><tspan x="0" y="13">pathway</tspan></text>
<text class="b" transform="translate(868 1533) rotate(-90)"><tspan x="0" y="0">ERK5 pathway</tspan></text>
<text class="l" transform="translate(565 1453) rotate(-90)"><tspan x="0" y="-20">Serum, cytotoxic drugs,</tspan><tspan x="0" y="-8">irradiation, heatshock,</tspan><tspan x="0" y="4">reactive oxygen species,</tspan><tspan x="0" y="16">lipopolysaccharide,</tspan><tspan x="0" y="28">and other stress</tspan></text>
<text class="l" transform="translate(815 1448) rotate(-90)" y="4">DNA damage</text>
<text class="l" transform="translate(929 1443) rotate(-90)" style="font-size:10.5px"><tspan x="0" y="-17">Serum, EGF,</tspan><tspan x="0" y="-6.5">reactive oxygen species,</tspan><tspan x="0" y="4">or</tspan><tspan x="0" y="14.5">Src tyrosinkinase</tspan><tspan x="0" y="25">do wnstream</tspan></text>
</g>
</svg>
